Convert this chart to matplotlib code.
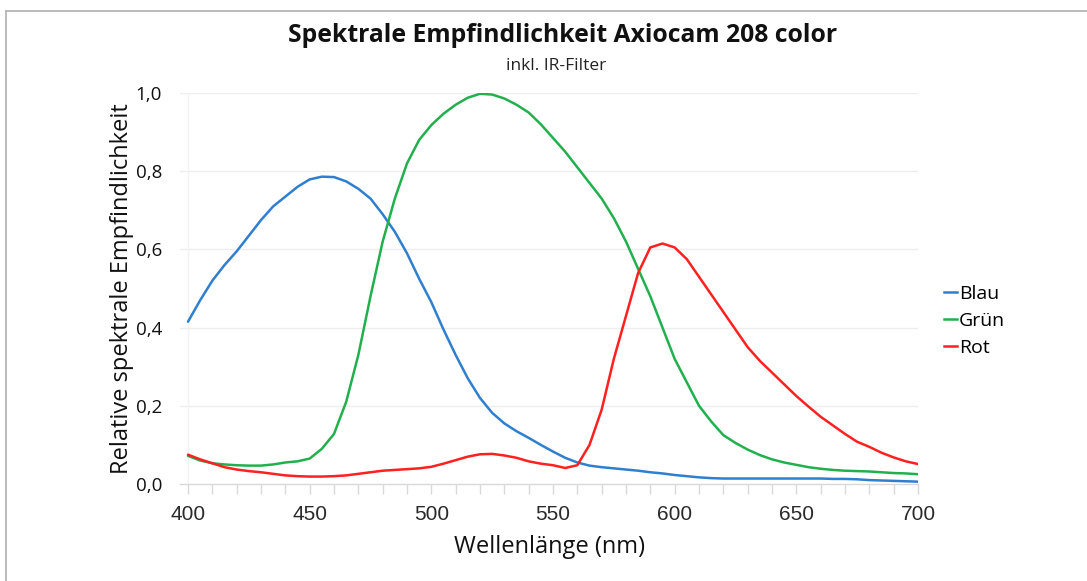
import numpy as np
import matplotlib
matplotlib.use("Agg")
import matplotlib.pyplot as plt
from matplotlib.lines import Line2D

wavelength = list(range(400, 705, 5))

blau = [0.415, 0.47, 0.52, 0.56, 0.595, 0.635, 0.675, 0.71, 0.735, 0.76,
        0.779, 0.786, 0.785, 0.774, 0.755, 0.73, 0.69, 0.645, 0.59, 0.525,
        0.465, 0.395, 0.33, 0.27, 0.22, 0.182, 0.155, 0.135, 0.118, 0.10,
        0.083, 0.067, 0.055, 0.047, 0.043, 0.040, 0.037, 0.034, 0.030, 0.027,
        0.023, 0.020, 0.017, 0.015, 0.014, 0.014, 0.014, 0.014, 0.014, 0.014,
        0.014, 0.014, 0.014, 0.013, 0.013, 0.012, 0.010, 0.009, 0.008, 0.007,
        0.006]

gruen = [0.072, 0.06, 0.053, 0.05, 0.048, 0.047, 0.047, 0.050, 0.055, 0.058,
         0.065, 0.090, 0.128, 0.21, 0.33, 0.48, 0.62, 0.73, 0.82, 0.88,
         0.918, 0.947, 0.97, 0.988, 0.998, 0.996, 0.986, 0.97, 0.95, 0.92,
         0.885, 0.85, 0.81, 0.77, 0.73, 0.68, 0.62, 0.55, 0.48, 0.40,
         0.32, 0.26, 0.20, 0.16, 0.125, 0.105, 0.088, 0.074, 0.063, 0.055,
         0.049, 0.043, 0.039, 0.036, 0.034, 0.033, 0.032, 0.030, 0.028, 0.027,
         0.025]

rot = [0.075, 0.063, 0.053, 0.043, 0.037, 0.033, 0.030, 0.026, 0.022, 0.020,
       0.019, 0.019, 0.020, 0.022, 0.026, 0.030, 0.034, 0.036, 0.038, 0.040,
       0.044, 0.052, 0.061, 0.070, 0.076, 0.077, 0.073, 0.067, 0.058, 0.052,
       0.048, 0.041, 0.048, 0.10, 0.19, 0.32, 0.43, 0.54, 0.605, 0.615,
       0.605, 0.575, 0.53, 0.485, 0.44, 0.395, 0.35, 0.315, 0.285, 0.255,
       0.225, 0.198, 0.172, 0.150, 0.128, 0.108, 0.095, 0.08, 0.068, 0.058,
       0.051]

series_names = ["Blau", "Grün", "Rot"]
series_colors = ["#2f7fd0", "#22b04e", "#ff2020"]

xticks_major = [400, 450, 500, 550, 600, 650, 700]
yticks = [0.0, 0.2, 0.4, 0.6, 0.8, 1.0]
ytick_labels = ["0,0", "0,2", "0,4", "0,6", "0,8", "1,0"]

W, H = 1087, 581
fig = plt.figure(figsize=(W / 100, H / 100), dpi=100)

# axes placement (pixels)
left_px, right_px, top_px, bottom_px = 180, 918, 93, 484
ax = fig.add_axes([left_px / W, 1 - bottom_px / H,
                   (right_px - left_px) / W, (bottom_px - top_px) / H])

for vals, name, col in zip([blau, gruen, rot], series_names, series_colors):
    ax.plot(wavelength, vals, color=col, lw=1.8, label=name,
            solid_joinstyle="round", solid_capstyle="round", zorder=3)

x_left = 400 - 8 / (730 / 300)
ax.set_xlim(x_left, 700)
ax.set_ylim(0, 1.0)

for s in ["top", "right", "left"]:
    ax.spines[s].set_visible(False)
ax.spines["bottom"].set_color("#d9d9d9")
ax.spines["bottom"].set_linewidth(1.0)

for y in yticks[1:]:
    ax.axhline(y, color="#eeeeee", lw=1.0, zorder=0)
ax.axvline(400, color="#f2f2f2", lw=1.0, zorder=0)

ax.set_xticks(list(range(400, 701, 10)))
ax.set_xticklabels([str(t) if t in xticks_major else "" for t in range(400, 701, 10)],
                   fontfamily="Liberation Sans", fontsize=15, color="#2a2a2a")
ax.tick_params(axis="x", length=7, color="#d9d9d9", width=1.0, pad=8)

ax.set_yticks(yticks)
ax.set_yticklabels(ytick_labels, fontfamily="Open Sans", fontsize=13.5, color="#111111")
ax.tick_params(axis="y", length=0, pad=13)

ax.set_xlabel("Wellenlänge (nm)", fontfamily="Open Sans", fontsize=17, color="#111111",
              labelpad=8)
ax.set_ylabel("Relative spektrale Empfindlichkeit", fontfamily="Open Sans", fontsize=17,
              color="#111111", labelpad=1)

fig.text(563 / W, 1 - 36 / H, "Spektrale Empfindlichkeit Axiocam 208 color",
         ha="center", va="center", fontfamily="Open Sans", fontweight="bold",
         fontsize=17.8, color="#111111")
fig.text(556 / W, 1 - 66 / H, "inkl. IR-Filter", ha="center", va="center",
         fontfamily="Open Sans", fontsize=12.5, color="#222222")

handles = [Line2D([0], [0], color=c, lw=1.8) for c in series_colors]
leg = fig.legend(handles, series_names, loc="center left",
                 bbox_to_anchor=(926 / W, 1 - 321 / H), frameon=False,
                 handlelength=0.7, handletextpad=0.1, labelspacing=0.45,
                 prop={"family": "Open Sans", "size": 14})

# frame border (top and left)
fig.add_artist(Line2D([6 / W, 6 / W], [0, 1 - 10.5 / H], transform=fig.transFigure,
                      color="#b5b5b5", lw=1.3))
fig.add_artist(Line2D([6 / W, 1], [1 - 10.5 / H, 1 - 10.5 / H], transform=fig.transFigure,
                      color="#b5b5b5", lw=1.3))

fig.savefig("out.png", dpi=100, facecolor="white")
